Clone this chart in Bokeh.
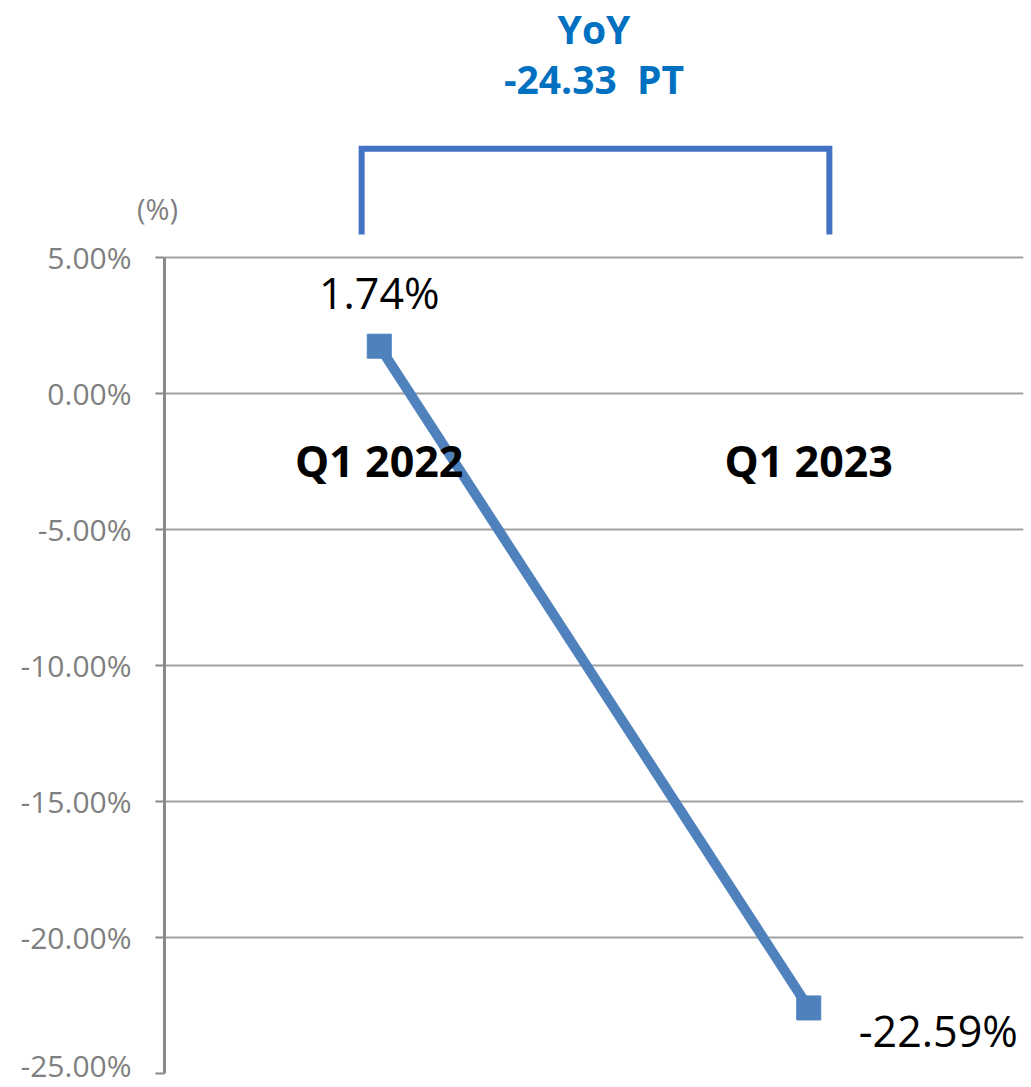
from bokeh.plotting import figure
from bokeh.models import Range1d, FixedTicker
from bokeh.core.properties import value
from bokeh.embed import file_html
from bokeh.resources import INLINE

categories = ["Q1 2022", "Q1 2023"]
values = [1.74, -22.59]
value_labels = ["1.74%", "-22.59%"]
y_ticks = [-25, -20, -15, -10, -5, 0, 5]
y_tick_labels = ["-25.00%", "-20.00%", "-15.00%", "-10.00%", "-5.00%", "0.00%", "5.00%"]
yoy_title = "YoY"
yoy_value = "-24.33\u00a0 PT"
unit_label = "(%)"

FONT = "Open Sans"
BLUE = "#4F81BD"
GRAY = "#7F7F7F"

xs = [i + 0.5 for i in range(len(categories))]
xmid = sum(xs) / len(xs)

p = figure(width=1025, height=1085, output_backend="svg", toolbar_location=None,
           x_range=Range1d(0, len(categories)), y_range=Range1d(-25, 14.45),
           min_border_left=164, min_border_right=2, min_border_top=0, min_border_bottom=12)
p.outline_line_color = None
p.background_fill_color = "white"
p.border_fill_color = "white"
p.xaxis.visible = False
p.xgrid.visible = False

yax = p.yaxis[0]
yax.ticker = FixedTicker(ticks=y_ticks)
yax.major_label_overrides = {t: l for t, l in zip(y_ticks, y_tick_labels)}
yax.bounds = (min(y_ticks), max(y_ticks))
yax.axis_line_color = "#898989"
yax.axis_line_width = 3
yax.major_tick_out = 9
yax.major_tick_in = 0
yax.minor_tick_out = 0
yax.minor_tick_in = 0
yax.major_tick_line_color = "#898989"
yax.major_tick_line_width = 2
yax.major_label_text_font = FONT
yax.major_label_text_font_size = "30px"
yax.major_label_text_color = GRAY
yax.major_label_standoff = 24

p.ygrid.ticker = FixedTicker(ticks=y_ticks)
p.ygrid.grid_line_color = "#A0A0A0"
p.ygrid.grid_line_width = 2

# series
p.line(xs, values, line_width=10, line_color=BLUE)
p.scatter(xs, values, marker="square", size=24, fill_color=BLUE, line_color=BLUE)

# data labels
p.text(x=[xs[0]], y=[values[0]], text=[value_labels[0]], text_font=value(FONT),
       text_font_size=value("43px"), text_color="black", text_align="center",
       text_baseline="middle", y_offset=-54)
p.text(x=[xs[1]], y=[values[1]], text=[value_labels[1]], text_font=value(FONT),
       text_font_size=value("43px"), text_color="black", text_align="left",
       text_baseline="middle", x_offset=50, y_offset=23)

# category labels
p.text(x=xs, y=[0] * len(xs), text=categories, text_font=value(FONT),
       text_font_size=value("43px"), text_font_style="bold", text_color="black",
       text_align="center", text_baseline="middle", y_offset=67)

# bracket
p.line([xs[0] - 0.041, xs[0] - 0.041, xs[1] + 0.048, xs[1] + 0.048],
       [5.85, 9.0, 9.0, 5.85], line_width=6, line_color="#4472C4", line_join="miter")

# YoY annotation
p.text(x=[xmid, xmid], y=[13.42, 11.58], text=[yoy_title, yoy_value], text_font=value(FONT),
       text_font_size=value("39px"), text_font_style="bold", text_color="#0070C0",
       text_align="center", text_baseline="middle")

# unit label (drawn at overlay level so it may sit left of the frame)
p.text(x=[-0.0163], y=[6.8], text=[unit_label], text_font=value(FONT),
       text_font_size=value("29px"), text_color=GRAY, text_align="center",
       text_baseline="middle", level="overlay")

open("out.html", "w").write(file_html(p, INLINE))
